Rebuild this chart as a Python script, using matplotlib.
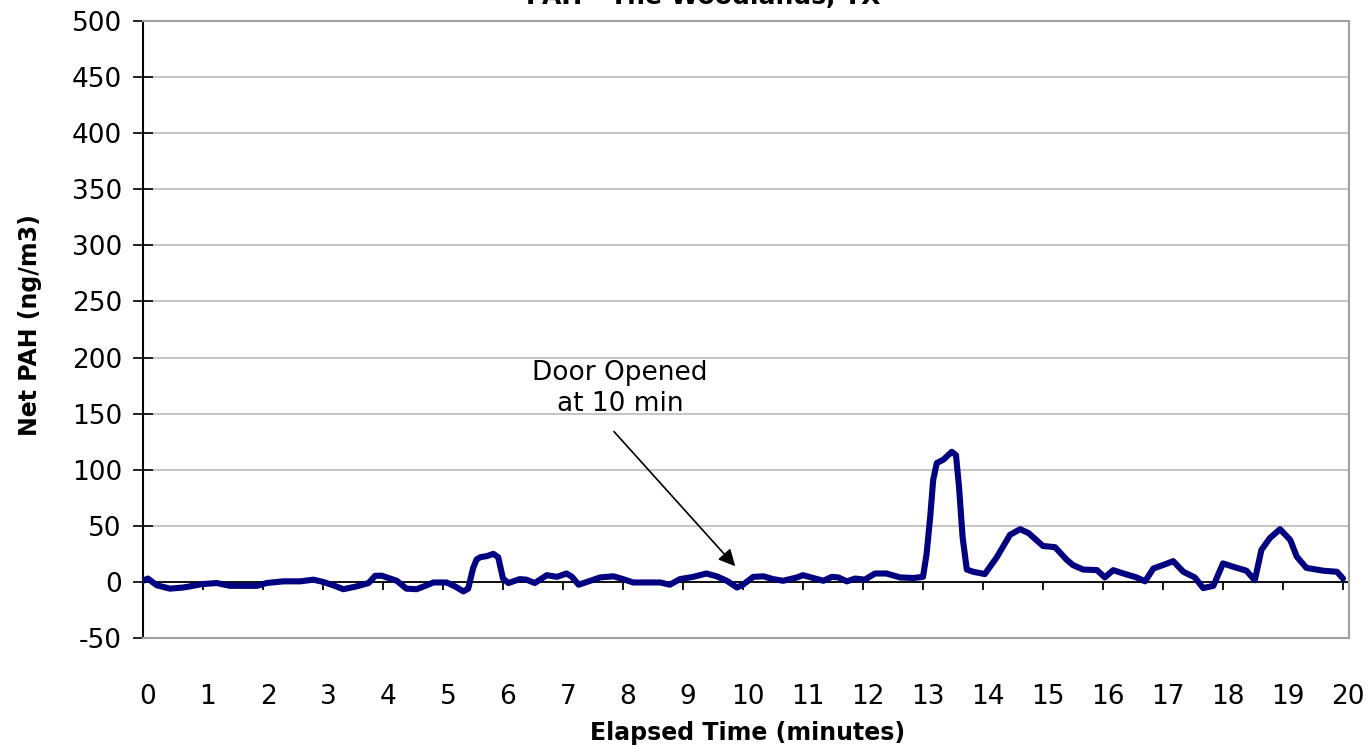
""" PAH time series, The Woodlands TX """

import matplotlib
matplotlib.use("Agg")
import matplotlib.pyplot as plt
import matplotlib.transforms as mtrans

plt.rcParams["axes.unicode_minus"] = False

# --- data ---
minutes = [0.0, 0.08, 0.23, 0.45, 0.67, 0.78, 0.98, 1.23, 1.45, 1.9, 2.06,
           2.34, 2.62, 2.84, 3.0, 3.17, 3.34, 3.56, 3.76, 3.87, 3.98, 4.23,
           4.39, 4.56, 4.73, 4.84, 5.06, 5.2, 5.34, 5.42, 5.5, 5.56, 5.62,
           5.73, 5.84, 5.92, 6.0, 6.09, 6.28, 6.39, 6.53, 6.73, 6.9, 7.06,
           7.15, 7.26, 7.4, 7.62, 7.84, 8.0, 8.17, 8.62, 8.78, 8.95, 9.17,
           9.39, 9.56, 9.73, 9.9, 10.0, 10.17, 10.34, 10.5, 10.67, 10.9,
           11.0, 11.34, 11.48, 11.59, 11.73, 11.87, 12.03, 12.2, 12.39,
           12.62, 12.84, 13.0, 13.06, 13.12, 13.17, 13.23, 13.34, 13.48,
           13.55, 13.6, 13.66, 13.73, 13.84, 14.03, 14.23, 14.45, 14.62,
           14.76, 15.0, 15.2, 15.39, 15.5, 15.67, 15.9, 16.03, 16.17, 16.34,
           16.56, 16.7, 16.84, 17.0, 17.17, 17.34, 17.53, 17.67, 17.84, 18.0,
           18.17, 18.39, 18.53, 18.64, 18.78, 18.95, 19.12, 19.23, 19.39,
           19.67, 19.9, 20.0]
net_pah = [1, 3, -3, -6, -5, -4, -2, -1, -3.5, -3.5, -1,
           0.5, 0.5, 2, 0, -3, -6.5, -4, -1, 5.5, 5.5, 1,
           -6, -6.5, -3, -0.5, -0.5, -4, -8.5, -6, 12, 20, 22,
           23, 25, 22, 3, -1, 2.5, 2, -1, 6, 4.5, 7.5,
           4.5, -2.5, 0, 4, 5, 2.5, -0.5, -0.5, -2.5, 2.5, 4.5,
           7.5, 5, 1, -5, -2.5, 4.5, 5, 2.5, 1, 4,
           6, 1, 4.5, 4, 0.5, 3, 2, 7.5, 7.5,
           4, 3.5, 4.5, 25, 58, 91, 106, 109, 116,
           113, 85, 40, 11, 9, 7, 22, 42, 47,
           43.5, 32, 31, 20, 15, 11, 10.5, 4, 10.5, 7.5,
           4, 0.5, 12, 15, 18.5, 9, 4, -5.5, -3.5, 16.5,
           13.5, 10, 1.5, 28.5, 39, 47, 37.5, 22.5, 12.5,
           10, 9, 3]

x_ticks = list(range(0, 21))
y_ticks = list(range(-50, 501, 50))

title = "PAH - The Woodlands, TX"
x_label = "Elapsed Time (minutes)"
y_label = "Net PAH (ng/m3)"
note = "Door Opened\nat 10 min"

W, H = 1368, 747
fig = plt.figure(figsize=(W / 100, H / 100), dpi=100)
ax = fig.add_axes([143 / W, 1 - 638 / H, (1349 - 143) / W, (638 - 21) / H])

ax.set_xlim(0, 20.1)
ax.set_ylim(-50, 500)

# grid + frame
for y in y_ticks[1:]:
    ax.axhline(y, color="#c0c0c0", lw=1.3, zorder=1)
ax.axhline(0, color="black", lw=1.3, zorder=2)
for side in ["top", "right", "bottom"]:
    ax.spines[side].set_color("#a0a0a0")
    ax.spines[side].set_linewidth(1.5)
ax.spines["left"].set_color("black")
ax.spines["left"].set_linewidth(1.5)

# tick marks hang off the zero line
ax.vlines(x_ticks, -7, 0, color="black", lw=1.3, zorder=2)

ax.set_xticks(x_ticks)
ax.set_yticks(y_ticks)
ax.tick_params(axis="x", length=0, pad=33, labelsize=19)
ax.tick_params(axis="y", direction="inout", length=14.4, width=1.2,
               pad=8, labelsize=19)
offset = mtrans.ScaledTranslation(5 / 100, 0, fig.dpi_scale_trans)
for lab in ax.get_xticklabels():
    lab.set_transform(lab.get_transform() + offset)

ax.plot(minutes, net_pah, color="#000080", lw=4.4, zorder=3,
        solid_joinstyle="round", solid_capstyle="round")

# note text and its arrow
ax.text(7.95, 172, note, ha="center", va="center", fontsize=19,
        linespacing=1.25)
ax.annotate("", xy=(9.87, 14), xytext=(7.85, 134),
            arrowprops=dict(arrowstyle="-|>", color="black", lw=1.2,
                            mutation_scale=25, shrinkA=0, shrinkB=0))

fig.text(703 / W, 1 - 4 / H, title, ha="center", va="baseline",
         fontsize=18, fontweight="bold")
fig.text(748 / W, 1 - 733 / H, x_label, ha="center", va="center",
         fontsize=17, fontweight="bold")
fig.text(30 / W, 1 - 325 / H, y_label, ha="center", va="center",
         rotation=90, fontsize=17, fontweight="bold")

fig.savefig("out.png", dpi=100)
